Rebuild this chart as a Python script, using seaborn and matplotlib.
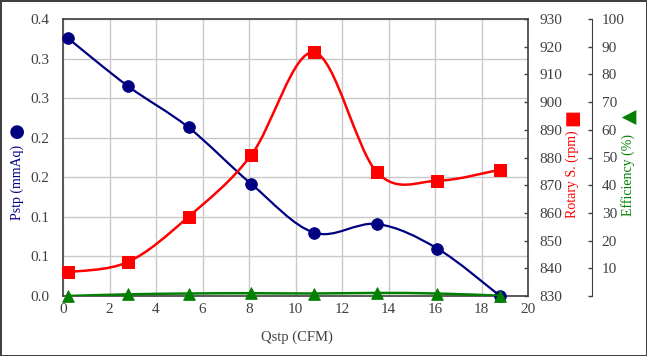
import seaborn as sns
import matplotlib.pyplot as plt
import numpy as np
import pandas as pd
from matplotlib.path import Path
from matplotlib.patches import PathPatch

# data
qstp = [0.2, 2.8, 5.4, 8.1, 10.8, 13.5, 16.1, 18.8]
pstp = [0.326, 0.265, 0.213, 0.1415, 0.080, 0.091, 0.060, 0.0]
rpm = [838.6, 842.3, 858.6, 880.9, 918.0, 874.7, 871.6, 875.6]
eff = [0.0, 0.6, 0.9, 1.0, 0.9, 1.1, 0.9, 0.1]

xticks = list(range(0, 21, 2))
pstp_ticks = [0.0, 0.05, 0.1, 0.15, 0.2, 0.25, 0.3, 0.35]
rpm_ticks = list(range(830, 931, 10))
eff_ticks = list(range(10, 101, 10))

df = pd.DataFrame({'Qstp': qstp, 'Pstp': pstp, 'rpm': rpm, 'eff': eff})

sns.set_style('white')
plt.rcParams['font.family'] = ['Liberation Serif', 'DejaVu Sans']

NAVY, RED, GREEN, GREY = '#000080', '#FF0000', '#008000', '#404040'


def smooth_path(xs, ys):
    # Excel-like smoothed line: cubic bezier through the points
    pts = np.column_stack([xs, ys])
    n = len(pts)
    verts = [pts[0]]
    codes = [Path.MOVETO]
    for i in range(n - 1):
        p0 = pts[max(i - 1, 0)]
        p1 = pts[i]
        p2 = pts[i + 1]
        p3 = pts[min(i + 2, n - 1)]
        verts += [p1 + (p2 - p0) / 6, p2 - (p3 - p1) / 6, p2]
        codes += [Path.CURVE4] * 3
    return Path(verts, codes)


fig = plt.figure(figsize=(6.47, 3.56), dpi=100)
fig.patch.set_edgecolor(GREY)
fig.patch.set_linewidth(2)
ax = fig.add_axes([63 / 647, 60 / 356, 465 / 647, 277 / 356])
ax2 = ax.twinx()
ax3 = ax.twinx()

# Pstp
ax.add_patch(PathPatch(smooth_path(qstp, pstp), fill=False, edgecolor=NAVY, lw=1.6, zorder=3))
sns.scatterplot(data=df, x='Qstp', y='Pstp', ax=ax, color=NAVY, marker='o', s=70,
                edgecolor=NAVY, zorder=4, clip_on=False)
ax.set_xlim(0, 20)
ax.set_ylim(0, 0.35)
ax.set_xticks(xticks)
ax.set_yticks(pstp_ticks)
ax.set_yticklabels([f'{v:.1f}' for v in [0.0, 0.1, 0.1, 0.2, 0.2, 0.3, 0.3, 0.4]])
ax.grid(True, color='#c8c8c8', lw=1)
ax.set_axisbelow(True)
ax.tick_params(axis='both', length=0, labelsize=11, labelcolor=GREY)
ax.tick_params(axis='y', pad=10)
ax.tick_params(axis='x', pad=5)
ax.set_xlabel('')
ax.set_ylabel('')
for s in ax.spines.values():
    s.set_color(GREY)
    s.set_linewidth(1.2)

# rotary speed
ax2.add_patch(PathPatch(smooth_path(qstp, rpm), fill=False, edgecolor=RED, lw=1.8, zorder=3))
sns.scatterplot(data=df, x='Qstp', y='rpm', ax=ax2, color=RED, marker='s', s=80,
                edgecolor=RED, zorder=4, clip_on=False)
ax2.set_ylim(830, 930)
ax2.set_yticks(rpm_ticks)
ax2.set_ylabel('')
ax2.tick_params(axis='y', direction='in', length=3, width=1, color=GREY,
                labelsize=11, labelcolor=GREY, pad=8)
for s in ax2.spines.values():
    s.set_visible(False)

# efficiency
ax3.add_patch(PathPatch(smooth_path(qstp, eff), fill=False, edgecolor=GREEN, lw=1.8, zorder=3))
sns.scatterplot(data=df, x='Qstp', y='eff', ax=ax3, color=GREEN, marker='^', s=70,
                edgecolor=GREEN, zorder=4, clip_on=False)
ax3.set_ylim(0, 100)
ax3.set_yticks([0] + eff_ticks)
ax3.set_yticklabels([''] + [str(v) for v in eff_ticks])
ax3.set_ylabel('')
for k, s in ax3.spines.items():
    s.set_visible(k == 'right')
ax3.spines['right'].set_position(('axes', (592 - 63) / 465))
ax3.spines['right'].set_color(GREY)
ax3.tick_params(axis='y', direction='in', length=3, width=1, color=GREY,
                labelsize=11, labelcolor=GREY, pad=7)

# axis titles
fig.text(297 / 647, 1 - 337 / 356, 'Qstp (CFM)', ha='center', va='center', fontsize=10.5, color=GREY)
fig.text(17 / 647, 1 - 182 / 356, 'Pstp (mmAq)', rotation=90, ha='center', va='center', fontsize=10, color=NAVY)
fig.text(17 / 647, 1 - 130 / 356, '●', rotation=90, ha='center', va='center', fontsize=13,
         color=NAVY, family='DejaVu Sans')
fig.text(572 / 647, 1 - 174 / 356, 'Rotary S. (rpm)', rotation=90, ha='center', va='center', fontsize=10, color=RED)
fig.text(572 / 647, 1 - 117 / 356, '■', rotation=90, ha='center', va='center', fontsize=13,
         color=RED, family='DejaVu Sans')
fig.text(628 / 647, 1 - 175 / 356, 'Efficiency (%)', rotation=90, ha='center', va='center', fontsize=10, color=GREEN)
fig.text(629 / 647, 1 - 117 / 356, '▲', rotation=90, ha='center', va='center', fontsize=14,
         color=GREEN, family='DejaVu Sans')

fig.savefig('out.png', dpi=100)
